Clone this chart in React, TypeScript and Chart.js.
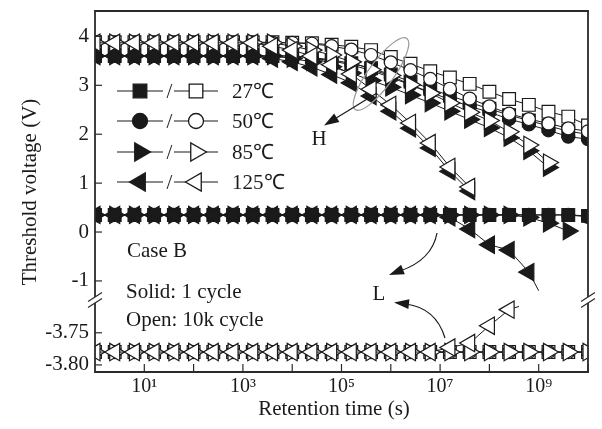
import React, { useEffect, useRef } from 'react';
import { Chart, registerables } from 'chart.js';

Chart.register(...registerables);

// Retention times (s)
const times = [1, 2.51, 6.31, 15.8, 39.8, 100, 251, 631, 1585, 3981, 1.0e4, 2.51e4, 6.31e4, 1.58e5, 3.98e5, 1.0e6, 2.51e6, 6.31e6, 1.58e7, 3.98e7, 1.0e8, 2.51e8, 6.31e8, 1.58e9, 3.98e9, 1.0e10];

// High state, 10k cycles (open)
const h27Open = [3.88, 3.88, 3.88, 3.88, 3.88, 3.88, 3.88, 3.88, 3.88, 3.88, 3.87, 3.86, 3.83, 3.79, 3.72, 3.58, 3.44, 3.29, 3.16, 3.03, 2.87, 2.72, 2.60, 2.46, 2.36, 2.18];
const h50Open = [3.87, 3.87, 3.87, 3.87, 3.87, 3.87, 3.87, 3.87, 3.87, 3.87, 3.87, 3.85, 3.80, 3.73, 3.62, 3.47, 3.31, 3.13, 2.93, 2.73, 2.57, 2.42, 2.31, 2.22, 2.12, 2.06];
const h85Open = [3.87, 3.87, 3.87, 3.87, 3.87, 3.87, 3.87, 3.87, 3.87, 3.87, 3.80, 3.72, 3.62, 3.48, 3.32, 3.20, 3.01, 2.84, 2.64, 2.45, 2.28, 2.05, 1.78, 1.42, null, null];
const h125Open = [3.87, 3.87, 3.87, 3.87, 3.87, 3.87, 3.87, 3.87, 3.87, 3.80, 3.72, 3.60, 3.42, 3.23, 2.92, 2.60, 2.23, 1.82, 1.33, 0.92, null, null, null, null, null, null];

// High state, 1 cycle (solid)
const h27Solid = [3.60, 3.60, 3.60, 3.60, 3.60, 3.60, 3.60, 3.60, 3.60, 3.60, 3.60, 3.57, 3.52, 3.45, 3.35, 3.22, 3.08, 2.93, 2.79, 2.65, 2.52, 2.39, 2.28, 2.17, 2.06, 2.00];
const h50Solid = [3.60, 3.60, 3.60, 3.60, 3.60, 3.60, 3.60, 3.60, 3.60, 3.60, 3.60, 3.56, 3.50, 3.42, 3.30, 3.16, 3.01, 2.86, 2.71, 2.57, 2.45, 2.31, 2.20, 2.08, 1.95, 1.90];
const h85Solid = [3.60, 3.60, 3.60, 3.60, 3.60, 3.60, 3.60, 3.60, 3.60, 3.60, 3.55, 3.48, 3.38, 3.25, 3.10, 2.96, 2.80, 2.64, 2.47, 2.30, 2.13, 1.93, 1.66, 1.32, null, null];
const h125Solid = [3.60, 3.60, 3.60, 3.60, 3.60, 3.60, 3.60, 3.60, 3.60, 3.55, 3.48, 3.37, 3.22, 3.05, 2.78, 2.47, 2.12, 1.72, 1.24, 0.84, null, null, null, null, null, null];

// Low state, 1 cycle (solid)
const l27Solid = [0.35, 0.35, 0.35, 0.35, 0.35, 0.35, 0.35, 0.35, 0.35, 0.35, 0.35, 0.35, 0.35, 0.35, 0.35, 0.35, 0.35, 0.35, 0.35, 0.35, 0.35, 0.35, 0.35, 0.35, 0.35, 0.33];
const l50Solid = [0.35, 0.35, 0.35, 0.35, 0.35, 0.35, 0.35, 0.35, 0.35, 0.35, 0.35, 0.35, 0.35, 0.35, 0.35, 0.35, 0.35, 0.35, 0.35, 0.35, 0.35, 0.35, 0.35, 0.35, 0.35, 0.31];
const l85Solid = [0.35, 0.35, 0.35, 0.35, 0.35, 0.35, 0.35, 0.35, 0.35, 0.35, 0.35, 0.35, 0.35, 0.35, 0.35, 0.35, 0.35, 0.35, 0.35, 0.35, 0.35, 0.35, 0.30, 0.18, 0.02, null];
const l125Solid = [0.35, 0.35, 0.35, 0.35, 0.35, 0.35, 0.35, 0.35, 0.35, 0.35, 0.35, 0.35, 0.35, 0.35, 0.35, 0.35, 0.35, 0.35, 0.30, 0.06, -0.26, -0.37, -0.82, null, null, null];
const l125SolidTail = { t: 1.0e9, v: -1.2 };

// Low state, 10k cycles (open)
const l27Open = [-3.78, -3.78, -3.78, -3.78, -3.78, -3.78, -3.78, -3.78, -3.78, -3.78, -3.78, -3.78, -3.78, -3.78, -3.78, -3.78, -3.78, -3.78, -3.78, -3.78, -3.78, -3.78, -3.78, -3.78, -3.78, -3.78];
const l50Open = [-3.78, -3.78, -3.78, -3.78, -3.78, -3.78, -3.78, -3.78, -3.78, -3.78, -3.78, -3.78, -3.78, -3.78, -3.78, -3.78, -3.78, -3.78, -3.78, -3.78, -3.78, -3.78, -3.78, -3.78, -3.78, -3.78];
const l85Open = [-3.78, -3.78, -3.78, -3.78, -3.78, -3.78, -3.78, -3.78, -3.78, -3.78, -3.78, -3.78, -3.78, -3.78, -3.78, -3.78, -3.78, -3.78, -3.78, -3.78, -3.78, -3.78, -3.78, -3.78, -3.78, -3.78];
const l125Open = [-3.78, -3.78, -3.78, -3.78, -3.78, -3.78, -3.78, -3.78, -3.78, -3.78, -3.78, -3.78, -3.78, -3.78, -3.78, -3.78, -3.78, -3.78, -3.773, -3.766, -3.739, -3.714, null, null, null, null];
const l125OpenTail = { t: 3.98e8, v: -3.709 };

// Axes
const xTickValues = [10, 1e3, 1e5, 1e7, 1e9];
const xTickLabels = ['10\u00B9', '10\u00B3', '10\u2075', '10\u2077', '10\u2079'];
const xMinorDecades = [10, 100, 1e3, 1e4, 1e5, 1e6, 1e7, 1e8, 1e9, 1e10];
const yUpTicks = [-1, 0, 1, 2, 3, 4];
const yLowTicks = [-3.8, -3.75];

const legendTemps = ['27\u2103', '50\u2103', '85\u2103', '125\u2103'];

const FONT = '"Liberation Serif", "Times New Roman", serif';
const INK = '#1a1a1a';

type Mk = { style: string; rot: number; r: number };
const SQ: Mk = { style: 'rect', rot: 0, r: 9 };
const CI: Mk = { style: 'circle', rot: 0, r: 6.5 };
const TR: Mk = { style: 'triangle', rot: 90, r: 10 };
const TL: Mk = { style: 'triangle', rot: -90, r: 10 };

function mk(values: (number | null)[], m: Mk, filled: boolean, axis: string, order: number, tail?: { t: number; v: number }) {
  const data: any[] = [];
  values.forEach((v, i) => {
    if (v !== null) data.push({ x: times[i], y: v });
  });
  if (tail) data.push({ x: tail.t, y: tail.v, tail: true });
  return {
    data,
    yAxisID: axis,
    order,
    borderColor: INK,
    borderWidth: 1,
    pointStyle: m.style,
    rotation: m.rot,
    pointRotation: m.rot,
    pointRadius: data.map((d) => (d.tail ? 0 : m.r)),
    pointBackgroundColor: filled ? INK : '#ffffff',
    pointBorderColor: INK,
    pointBorderWidth: 1.2,
    fill: false,
    tension: 0,
    clip: 0,
    spanGaps: false,
  };
}

function drawMarker(ctx: CanvasRenderingContext2D, m: Mk, x: number, y: number, filled: boolean) {
  ctx.save();
  ctx.beginPath();
  if (m.style === 'rect') {
    const s = 6.8;
    ctx.rect(x - s, y - s, 2 * s, 2 * s);
  } else if (m.style === 'circle') {
    ctx.arc(x, y, 7.5, 0, Math.PI * 2);
  } else {
    const r = 10.5;
    let a = (m.rot * Math.PI) / 180;
    for (let k = 0; k < 3; k++) {
      const px = x + Math.sin(a) * r;
      const py = y - Math.cos(a) * r;
      if (k === 0) ctx.moveTo(px, py);
      else ctx.lineTo(px, py);
      a += (2 * Math.PI) / 3;
    }
    ctx.closePath();
  }
  ctx.fillStyle = filled ? INK : '#ffffff';
  ctx.fill();
  ctx.lineWidth = 1.3;
  ctx.strokeStyle = INK;
  ctx.stroke();
  ctx.restore();
}

function arrowHead(ctx: CanvasRenderingContext2D, tx: number, ty: number, fx: number, fy: number, len: number, half: number) {
  const ang = Math.atan2(ty - fy, tx - fx);
  const bx = tx - Math.cos(ang) * len;
  const by = ty - Math.sin(ang) * len;
  ctx.beginPath();
  ctx.moveTo(tx, ty);
  ctx.lineTo(bx + Math.sin(ang) * half, by - Math.cos(ang) * half);
  ctx.lineTo(bx - Math.sin(ang) * half, by + Math.cos(ang) * half);
  ctx.closePath();
  ctx.fill();
}

const zeroPad = (s: any) => {
  s.paddingTop = 0;
  s.paddingBottom = 0;
  s.paddingLeft = 0;
  s.paddingRight = 0;
};

const decor = {
  id: 'decor',
  afterDraw(chart: any) {
    const ctx: CanvasRenderingContext2D = chart.ctx;
    const a = chart.chartArea;
    const xs = chart.scales.x;
    const yu = chart.scales.yUp;
    const yl = chart.scales.yLow;
    const yb = yu.bottom;
    const L = a.left, R = a.right, T = a.top, B = a.bottom;
    const line = (x1: number, y1: number, x2: number, y2: number) => {
      ctx.beginPath();
      ctx.moveTo(x1, y1);
      ctx.lineTo(x2, y2);
      ctx.stroke();
    };
    ctx.save();
    ctx.lineCap = 'butt';
    // frame
    ctx.strokeStyle = '#2a2a2a';
    ctx.lineWidth = 1.8;
    line(L - 0.9, T, R + 0.9, T);
    line(L - 0.9, B, R + 0.9, B);
    line(L, T, L, yb - 3);
    line(L, yb + 3, L, B);
    line(R, T, R, yb - 3);
    line(R, yb + 3, R, B);
    // break marks
    ctx.lineWidth = 1.2;
    for (const x of [L, R]) {
      line(x - 7, yb - 3 + 4.5, x + 7, yb - 3 - 4.5);
      line(x - 7, yb + 3 + 4.5, x + 7, yb + 3 - 4.5);
    }
    // ticks
    ctx.lineWidth = 1.2;
    for (const v of yUpTicks) {
      const y = yu.getPixelForValue(v);
      line(L, y, L + 7, y);
    }
    for (const v of yLowTicks) {
      const y = yl.getPixelForValue(v);
      line(L, y, L + 7, y);
    }
    for (const v of xMinorDecades) {
      const x = xs.getPixelForValue(v);
      line(x, B, x, B - 8);
    }

    // titles
    ctx.fillStyle = INK;
    ctx.font = `21px ${FONT}`;
    ctx.textAlign = 'center';
    ctx.textBaseline = 'middle';
    ctx.fillText('Retention time (s)', 334, 409);
    ctx.save();
    ctx.translate(30, 192);
    ctx.rotate(-Math.PI / 2);
    ctx.fillText('Threshold voltage (V)', 0, 0);
    ctx.restore();

    // annotations text
    ctx.textAlign = 'left';
    ctx.textBaseline = 'alphabetic';
    ctx.fillText('Case B', 127, 257);
    ctx.fillText('Solid: 1 cycle', 126, 298);
    ctx.fillText('Open: 10k cycle', 126, 326);
    ctx.textAlign = 'center';
    ctx.textBaseline = 'middle';
    ctx.fillText('H', 319, 139);
    ctx.fillText('L', 379, 294);

    // ellipse around H group
    ctx.strokeStyle = '#999999';
    ctx.lineWidth = 1.2;
    ctx.beginPath();
    ctx.ellipse(381, 74, 44, 12.5, (-54 * Math.PI) / 180, 0, Math.PI * 2);
    ctx.stroke();

    // arrows
    ctx.strokeStyle = INK;
    ctx.fillStyle = INK;
    ctx.lineWidth = 1.2;
    line(377, 93, 333, 120);
    arrowHead(ctx, 324, 125.5, 377, 93, 15, 5);

    ctx.beginPath();
    ctx.moveTo(437, 233);
    ctx.quadraticCurveTo(432, 260, 400, 271);
    ctx.stroke();
    arrowHead(ctx, 389, 275, 432, 258, 15, 5);

    ctx.beginPath();
    ctx.moveTo(445, 338);
    ctx.quadraticCurveTo(436, 308, 406, 304);
    ctx.stroke();
    arrowHead(ctx, 394, 302.5, 436, 307, 15, 5);

    // legend
    const rows = [91, 121, 152, 182];
    const solids = [SQ, CI, TR, TL];
    ctx.font = `21px ${FONT}`;
    rows.forEach((y, i) => {
      ctx.strokeStyle = INK;
      ctx.lineWidth = 1.2;
      line(117, y, 163, y);
      line(174, y, 218, y);
      drawMarker(ctx, solids[i], 140, y, true);
      drawMarker(ctx, solids[i], 196, y, false);
      ctx.fillStyle = INK;
      ctx.textAlign = 'center';
      ctx.textBaseline = 'middle';
      ctx.fillText('/', 169.5, y + 1);
      ctx.textAlign = 'left';
      ctx.fillText(legendTemps[i], 232, y + 1);
    });
    ctx.restore();
  },
};

export default function App() {
  const ref = useRef<HTMLCanvasElement>(null);
  useEffect(() => {
    const datasets = [
      mk(l125Open, TL, false, 'yLow', 1, l125OpenTail),
      mk(l85Open, TR, false, 'yLow', 2),
      mk(l50Open, CI, false, 'yLow', 3),
      mk(l27Open, SQ, false, 'yLow', 4),
      mk(h125Open, TL, false, 'yUp', 5),
      mk(h85Open, TR, false, 'yUp', 6),
      mk(h50Open, CI, false, 'yUp', 7),
      mk(h27Open, SQ, false, 'yUp', 8),
      mk(l125Solid, TL, true, 'yUp', 9, l125SolidTail),
      mk(l85Solid, TR, true, 'yUp', 10),
      mk(l50Solid, CI, true, 'yUp', 11),
      mk(l27Solid, SQ, true, 'yUp', 12),
      mk(h125Solid, TL, true, 'yUp', 13),
      mk(h85Solid, TR, true, 'yUp', 14),
      mk(h50Solid, CI, true, 'yUp', 15),
      mk(h27Solid, SQ, true, 'yUp', 16),
    ];
    const chart = new Chart(ref.current as HTMLCanvasElement, {
      type: 'line',
      data: { datasets: datasets as any },
      options: {
        animation: false,
        responsive: false,
        events: [],
        layout: { padding: { left: 0, right: 14, top: 11, bottom: 0 }, autoPadding: false },
        plugins: { legend: { display: false }, tooltip: { enabled: false } },
        scales: {
          x: {
            type: 'logarithmic',
            position: 'bottom',
            min: 1,
            max: 1e10,
            grid: { display: false, drawTicks: false },
            border: { display: false },
            ticks: {
              autoSkip: false,
              maxRotation: 0,
              minRotation: 0,
              padding: 3,
              color: INK,
              font: { family: FONT, size: 20 },
              callback: (v: any) => {
                const i = xTickValues.indexOf(Number(v));
                return i >= 0 ? xTickLabels[i] : '';
              },
            },
            afterBuildTicks: (s: any) => {
              s.ticks = xTickValues.map((v) => ({ value: v }));
            },
            afterFit: (s: any) => {
              s.height = 57;
              zeroPad(s);
            },
          },
          yLow: {
            type: 'linear',
            position: 'left',
            stack: 'v',
            stackWeight: 72,
            min: -3.811,
            max: -3.699,
            grid: { display: false, drawTicks: false },
            border: { display: false },
            ticks: {
              padding: 6,
              color: INK,
              font: { family: FONT, size: 21 },
              callback: (v: any) => Number(v).toFixed(2),
            },
            afterBuildTicks: (s: any) => {
              s.ticks = yLowTicks.map((v) => ({ value: v }));
            },
            afterFit: (s: any) => {
              s.width = 95;
              zeroPad(s);
            },
          },
          yUp: {
            type: 'linear',
            position: 'left',
            stack: 'v',
            stackWeight: 289,
            min: -1.39,
            max: 4.52,
            grid: { display: false, drawTicks: false },
            border: { display: false },
            ticks: {
              padding: 6,
              color: INK,
              font: { family: FONT, size: 21 },
              callback: (v: any) => String(v),
            },
            afterBuildTicks: (s: any) => {
              s.ticks = yUpTicks.map((v) => ({ value: v }));
            },
            afterFit: (s: any) => {
              s.width = 95;
              zeroPad(s);
            },
          },
        },
      } as any,
      plugins: [decor],
    });
    return () => chart.destroy();
  }, []);
  return (
    <div style={{ position: 'absolute', left: 0, top: 0, width: 602, height: 429, background: '#fff' }}>
      <canvas ref={ref} width={602} height={429} style={{ display: 'block', width: 602, height: 429 }} />
    </div>
  );
}
